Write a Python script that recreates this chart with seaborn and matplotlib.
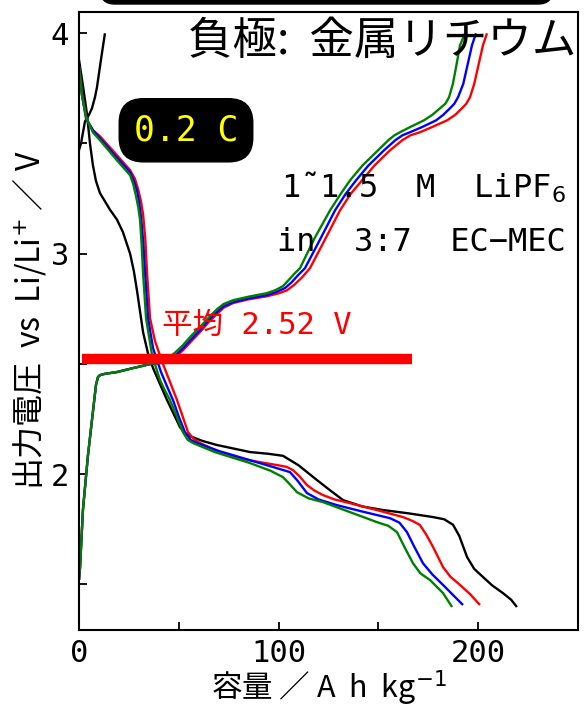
import matplotlib
matplotlib.use("Agg")
import matplotlib.pyplot as plt
from matplotlib.patches import FancyBboxPatch
from matplotlib.transforms import IdentityTransform
import seaborn as sns
import pandas as pd

# ---------------- data ----------------
# discharge curves (capacity / Ah kg-1, voltage / V)
dis_black_cap = [0, 2.0, 4.0, 5.5, 7.0, 8.5, 10.5, 15.5, 19.0, 22.0, 25.6, 27.5, 29.1, 32.1, 34.5, 37.1, 40.5,
                 44.1, 50.6, 53.0, 55.6, 62.0, 69.1, 85.7, 95.0, 102.2, 110.0, 119.2, 126.0, 132.3, 142.0,
                 152.3, 165.0, 177.4, 183.0, 187.4, 190.5, 194.4, 198.0, 202.4, 207.0, 212.4, 216.5, 219.4]
dis_black_v = [3.88, 3.76, 3.633, 3.50, 3.40, 3.33, 3.275, 3.20, 3.155, 3.098, 3.00, 2.92, 2.83, 2.644,
               2.55, 2.481, 2.41, 2.336, 2.213, 2.185, 2.172, 2.15, 2.132, 2.10, 2.092, 2.083, 2.04, 1.973,
               1.925, 1.882, 1.853, 1.837, 1.822, 1.805, 1.795, 1.77, 1.72, 1.624, 1.57, 1.533, 1.495,
               1.46, 1.43, 1.397]

dis_red_cap = [0, 1.5, 4.0, 7.0, 10.5, 19.0, 25.6, 28.0, 29.6, 31.0, 32.1, 33.2, 34.1, 35.6, 38.1, 42.1,
               45.5, 49.1, 52.0, 54.6, 57.5, 60.6, 68.0, 77.2, 90.0, 99.2, 104.0, 107.2, 110.5, 114.2,
               118.0, 122.2, 128.0, 135.8, 150.0, 162.3, 167.0, 170.8, 174.0, 177.4, 182.4, 186.0,
               190.9, 196.0, 200.9]
dis_red_v = [3.85, 3.72, 3.605, 3.56, 3.533, 3.447, 3.379, 3.34, 3.293, 3.24, 3.179, 3.07, 2.912, 2.707,
             2.603, 2.499, 2.42, 2.336, 2.26, 2.19, 2.16, 2.141, 2.11, 2.077, 2.055, 2.041, 2.033, 2.018,
             1.99, 1.95, 1.925, 1.905, 1.885, 1.868, 1.835, 1.805, 1.788, 1.769, 1.725, 1.669, 1.578,
             1.535, 1.497, 1.455, 1.406]

dis_blue_cap = [0, 1.5, 3.5, 7.0, 10.5, 19.0, 25.6, 27.5, 29.1, 30.2, 31.1, 32.2, 33.1, 34.6, 37.1, 41.1,
                44.0, 47.1, 50.0, 53.1, 56.0, 59.1, 70.0, 85.7, 98.0, 105.7, 109.5, 114.2, 120.0, 129.3,
                142.0, 155.8, 160.5, 164.3, 168.0, 172.3, 177.0, 182.4, 187.0, 192.4]
dis_blue_v = [3.85, 3.72, 3.615, 3.56, 3.524, 3.436, 3.37, 3.33, 3.284, 3.23, 3.165, 3.05, 2.912, 2.707,
              2.571, 2.463, 2.40, 2.336, 2.26, 2.19, 2.155, 2.141, 2.105, 2.063, 2.03, 2.009, 1.97,
              1.914, 1.885, 1.859, 1.83, 1.80, 1.78, 1.737, 1.67, 1.596, 1.545, 1.497, 1.455, 1.406]

dis_green_cap = [0, 1.5, 3.5, 7.0, 10.5, 19.0, 25.6, 27.2, 28.6, 29.7, 30.6, 31.4, 32.1, 33.6, 36.6, 40.6,
                 43.0, 45.6, 49.0, 52.1, 54.5, 57.1, 68.0, 85.7, 96.0, 102.2, 105.5, 109.2, 115.0, 122.2,
                 135.0, 149.3, 155.0, 159.3, 163.0, 167.3, 171.0, 175.9, 182.4, 186.9]
dis_green_v = [3.85, 3.72, 3.62, 3.55, 3.515, 3.424, 3.356, 3.315, 3.26, 3.21, 3.152, 3.04, 2.912, 2.707,
               2.54, 2.426, 2.38, 2.336, 2.26, 2.19, 2.155, 2.141, 2.10, 2.05, 2.015, 1.986, 1.955, 1.918,
               1.89, 1.873, 1.83, 1.782, 1.765, 1.737, 1.67, 1.596, 1.55, 1.519, 1.46, 1.397]

# charge curves
chg_black_cap = [0, 1.0, 3.0, 5.0, 6.5, 8.0, 9.0, 11.0, 13.0]
chg_black_v = [3.47, 3.50, 3.60, 3.63, 3.66, 3.71, 3.755, 3.88, 4.0]

chg_red_cap = [0, 0.5, 2.0, 4.5, 6.5, 8.5, 9.5, 10.5, 13.0, 19.0, 27.1, 35.6, 40.0, 44.1, 48.0, 52.1, 56.0,
               60.6, 65.0, 69.1, 72.5, 77.2, 85.0, 94.2, 100.0, 104.2, 108.0, 112.0, 115.7, 123.0, 130.8,
               136.0, 141.8, 148.0, 155.8, 162.0, 166.0, 170.8, 177.0, 184.4, 188.5, 191.9, 194.0, 195.9,
               198.0, 199.9, 202.4, 204.4]
chg_red_v = [1.52, 1.574, 1.841, 2.086, 2.245, 2.404, 2.44, 2.449, 2.455, 2.463, 2.481, 2.499, 2.503, 2.508,
             2.53, 2.562, 2.60, 2.644, 2.69, 2.726, 2.755, 2.776, 2.793, 2.807, 2.82, 2.834, 2.86, 2.895,
             2.934, 3.06, 3.197, 3.27, 3.333, 3.40, 3.469, 3.515, 3.537, 3.551, 3.575, 3.605, 3.63, 3.66,
             3.68, 3.71, 3.77, 3.846, 3.946, 4.0]

chg_blue_cap = [0, 0.5, 2.0, 4.5, 6.5, 8.5, 9.5, 10.5, 13.0, 19.0, 27.1, 35.6, 40.0, 44.1, 48.0, 52.1, 56.0,
                60.6, 65.0, 69.1, 72.5, 77.2, 85.0, 94.2, 99.0, 103.2, 106.5, 110.0, 113.2, 120.5, 128.3,
                133.5, 138.8, 145.0, 152.8, 158.5, 162.0, 165.8, 172.0, 178.9, 182.5, 185.9, 188.0, 189.9,
                192.5, 194.4, 196.9, 198.9]
chg_blue_v = [1.52, 1.574, 1.841, 2.086, 2.245, 2.404, 2.44, 2.449, 2.455, 2.463, 2.481, 2.499, 2.505,
              2.512, 2.535, 2.571, 2.61, 2.653, 2.70, 2.735, 2.762, 2.78, 2.797, 2.812, 2.827, 2.844, 2.87,
              2.905, 2.934, 3.06, 3.197, 3.27, 3.333, 3.40, 3.469, 3.515, 3.537, 3.551, 3.575, 3.605, 3.63,
              3.66, 3.68, 3.71, 3.77, 3.846, 3.946, 4.0]

chg_green_cap = [0, 0.5, 2.0, 4.5, 6.5, 8.5, 9.5, 10.5, 13.0, 19.0, 27.1, 35.6, 40.0, 44.1, 48.0, 52.1, 56.0,
                 60.6, 65.0, 69.1, 72.5, 77.2, 85.0, 94.2, 98.5, 102.2, 105.0, 108.0, 110.7, 118.0, 125.8,
                 131.0, 135.8, 142.0, 149.8, 155.0, 158.0, 160.8, 166.0, 172.8, 177.0, 180.9, 183.5, 185.4,
                 187.3, 188.9, 190.9, 193.4]
chg_green_v = [1.52, 1.574, 1.841, 2.086, 2.245, 2.404, 2.44, 2.449, 2.455, 2.463, 2.481, 2.499, 2.51,
               2.522, 2.55, 2.585, 2.625, 2.667, 2.71, 2.748, 2.772, 2.789, 2.805, 2.821, 2.835, 2.853,
               2.88, 2.91, 2.934, 3.07, 3.197, 3.27, 3.333, 3.40, 3.469, 3.515, 3.537, 3.551, 3.575, 3.605,
               3.63, 3.66, 3.68, 3.71, 3.77, 3.846, 3.946, 4.0]

avg_cap = [1.5, 167.0]
avg_v = [2.52, 2.52]
avg_label = "平均 2.52 V"

series_names = ["black", "red", "blue", "green"]
series_colors = ["#000000", "#ff0000", "#0000ff", "#008000"]

x_ticks = [0, 50, 100, 150, 200]
x_ticklabels = ["0", "", "100", "", "200"]
y_ticks = [1.5, 2, 2.5, 3, 3.5, 4]
y_ticklabels = ["", "2", "", "3", "", "4"]

title_text = "負極:  金属リチウム"
rate_text = "0.2 C"
elec_line1 = "1˜1.5  M  LiPF$_6$"
elec_line2 = "in  3:7  EC−MEC"
xlabel = "容量 ／ A  h  kg$^{-1}$"
ylabel = "出力電圧  vs  Li/Li$^{+}$ ／ V"

# ---------------- build table ----------------
rows = []
curves = {
    ("black", "dis"): (dis_black_cap, dis_black_v),
    ("black", "chg"): (chg_black_cap, chg_black_v),
    ("red", "dis"): (dis_red_cap, dis_red_v),
    ("red", "chg"): (chg_red_cap, chg_red_v),
    ("blue", "dis"): (dis_blue_cap, dis_blue_v),
    ("blue", "chg"): (chg_blue_cap, chg_blue_v),
    ("green", "dis"): (dis_green_cap, dis_green_v),
    ("green", "chg"): (chg_green_cap, chg_green_v),
}
for (s, seg), (cx, cv) in curves.items():
    for i, (a, b) in enumerate(zip(cx, cv)):
        rows.append({"series": s, "seg": f"{s}-{seg}", "cap": a, "V": b, "i": i})
df = pd.DataFrame(rows)

# ---------------- plot ----------------
sns.set_style("ticks")
plt.rcParams["font.family"] = ["DejaVu Sans Mono", "Noto Sans CJK JP"]
plt.rcParams["mathtext.fontset"] = "dejavusans"
plt.rcParams["lines.solid_joinstyle"] = "round"
plt.rcParams["lines.solid_capstyle"] = "butt"

fig = plt.figure(figsize=(5.86, 7.14), dpi=100)
ax = fig.add_axes([79 / 586, 1 - 629.7 / 714, (578 - 79) / 586, (629.7 - 11.7) / 714])

for name, col in zip(series_names, series_colors):
    sub = df[df["series"] == name]
    sns.lineplot(data=sub, x="cap", y="V", units="seg", estimator=None, sort=False,
                 color=col, linewidth=1.7, ax=ax, legend=False)

sns.lineplot(x=avg_cap, y=avg_v, color="#ff0000", linewidth=7.5, ax=ax, legend=False,
             sort=False, estimator=None, zorder=5)

ax.set_xlim(0, 250)
ax.set_ylim(1.294, 4.098)
ax.set_xticks(x_ticks)
ax.set_xticklabels(x_ticklabels)
ax.set_yticks(y_ticks)
ax.set_yticklabels(y_ticklabels)
ax.tick_params(direction="in", length=6, width=1.3, labelsize=22, pad=7,
               colors="black", labelcolor="black")
for sp in ax.spines.values():
    sp.set_visible(True)
    sp.set_linewidth(1.5)
    sp.set_color("black")

ax.set_xlabel(xlabel, fontsize=22, family=["Noto Sans CJK JP"], labelpad=0, color="black")
ax.set_ylabel(ylabel, fontsize=23, family=["Noto Sans CJK JP"], labelpad=2, color="black")

ax.text(249, 3.965, title_text, ha="right", va="center", fontsize=32,
        family=["Noto Sans CJK JP"], color="black", zorder=6)
ax.text(53.6, 3.56, rate_text, ha="center", va="center", fontsize=25, color="#ffff00",
        family=["DejaVu Sans Mono"], zorder=7,
        bbox=dict(boxstyle="round,pad=0.42,rounding_size=0.7", fc="black", ec="black"))
ax.text(244, 3.30, elec_line1, ha="right", va="center", fontsize=23, color="black", zorder=6)
ax.text(244, 3.05, elec_line2, ha="right", va="center", fontsize=23, color="black", zorder=6)
ax.text(41.5, 2.675, avg_label, ha="left", va="center", fontsize=22, color="#ff0000",
        family=["DejaVu Sans Mono", "Noto Sans CJK JP"], zorder=6)

# clipped black title box at the very top of the figure
fig.patches.append(FancyBboxPatch((100, 710), 453, 60, boxstyle="round,pad=0,rounding_size=15",
                                  transform=IdentityTransform(), fc="black", ec="black"))

fig.savefig("out.png", dpi=100)
